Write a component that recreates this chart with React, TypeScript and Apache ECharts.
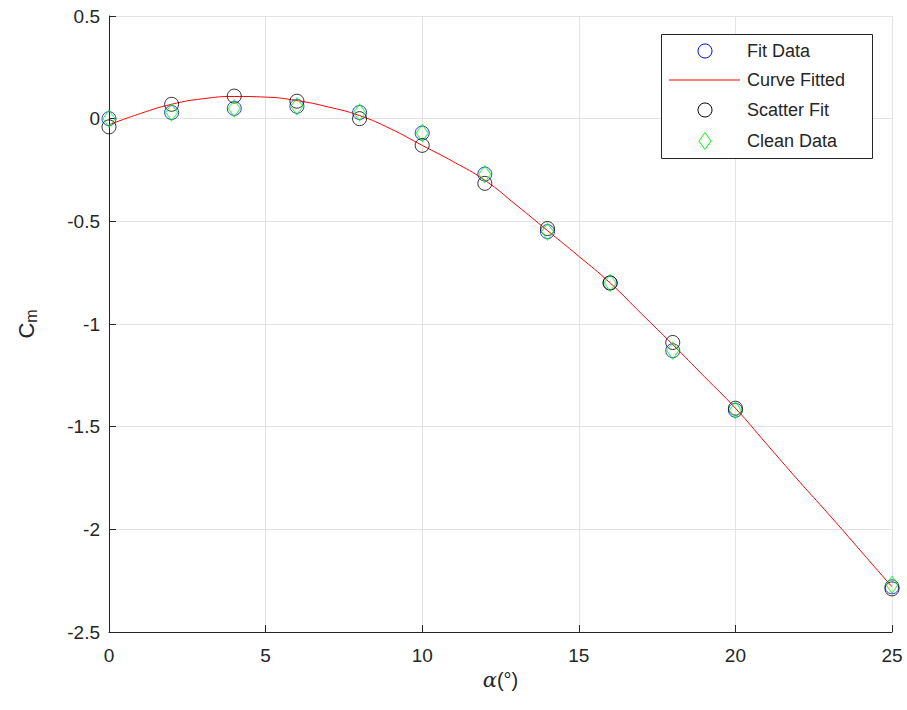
import React, { useEffect, useRef } from "react";
import * as echarts from "echarts";

const alphaPts = [0, 2, 4, 6, 8, 10, 12, 14, 16, 18, 20, 25];
const fitData = [0.0, 0.03, 0.05, 0.06, 0.03, -0.07, -0.27, -0.55, -0.8, -1.13, -1.42, -2.28];
const scatterFit = [-0.04, 0.07, 0.11, 0.085, 0.0, -0.13, -0.315, -0.535, -0.8, -1.09, -1.41, -2.29];
const cleanData = [0.0, 0.03, 0.05, 0.06, 0.03, -0.07, -0.27, -0.55, -0.8, -1.13, -1.42, -2.27];

const curveAlpha = [0, 1, 2, 3, 4, 5, 6, 7, 8, 9, 10, 11, 12, 13, 14, 15, 16, 17, 18, 19, 20, 21, 22, 23, 24, 25];
const curveVals = [
  -0.03, 0.025, 0.07, 0.097, 0.108, 0.105, 0.088, 0.057, 0.015, -0.05, -0.13, -0.21, -0.3, -0.42,
  -0.545, -0.67, -0.8, -0.95, -1.1, -1.255, -1.41, -1.585, -1.76, -1.93, -2.105, -2.28,
];

const legendNames = ["Fit Data", "Curve Fitted", "Scatter Fit", "Clean Data"];

const FONT = "Liberation Sans, Arial, sans-serif";
const TXT = "#262626";
const BLUE = "#0000ff";
const RED = "#ff0000";
const BLACK = "#000000";
const GREEN = "#00ff00";

export default function App() {
  const ref = useRef<HTMLDivElement>(null);
  useEffect(() => {
    if (!ref.current) return;
    const chart = echarts.init(ref.current, undefined, { renderer: "svg" });
    const pair = (xs: number[], ys: number[]) => xs.map((x, i) => [x, ys[i]]);

    const lx = 661, ly = 34, lw = 211, lh = 124;
    const rowsY = [51, 80, 110, 141];
    const iconX = 705;
    const textX = 747;
    const legendEls: any[] = [
      {
        type: "rect",
        shape: { x: lx + 0.5, y: ly + 0.5, width: lw, height: lh },
        style: { fill: "#ffffff", stroke: TXT, lineWidth: 1 },
        z: 100,
      },
      { type: "circle", shape: { cx: iconX, cy: rowsY[0], r: 7 }, style: { fill: "none", stroke: BLUE, lineWidth: 1 }, z: 101 },
      { type: "line", shape: { x1: 669, y1: rowsY[1], x2: 740, y2: rowsY[1] }, style: { stroke: RED, lineWidth: 1 }, z: 101 },
      { type: "circle", shape: { cx: iconX, cy: rowsY[2], r: 7 }, style: { fill: "none", stroke: BLACK, lineWidth: 1 }, z: 101 },
      {
        type: "polygon",
        shape: { points: [[iconX, rowsY[3] - 8.5], [iconX + 6, rowsY[3]], [iconX, rowsY[3] + 8.5], [iconX - 6, rowsY[3]]] },
        style: { fill: "none", stroke: GREEN, lineWidth: 1 },
        z: 101,
      },
    ];
    legendNames.forEach((n, i) => {
      legendEls.push({
        type: "text",
        x: textX,
        y: rowsY[i],
        style: { text: n, fill: TXT, font: `18px ${FONT}`, textVerticalAlign: "middle", verticalAlign: "middle" },
        z: 101,
      });
    });

    chart.setOption({
      animation: false,
      backgroundColor: "#ffffff",
      textStyle: { fontFamily: FONT },
      grid: { left: 109, top: 16, right: 15, bottom: 78, containLabel: false },
      xAxis: {
        type: "value",
        min: 0,
        max: 25,
        interval: 5,
        name: "{it|α}(°)",
        nameLocation: "middle",
        nameGap: 34,
        nameTextStyle: {
          color: TXT,
          fontSize: 20,
          fontFamily: FONT,
          rich: { it: { fontStyle: "italic", fontSize: 21, fontFamily: "DejaVu Serif", color: TXT } },
        },
        axisLine: { show: true, onZero: false, lineStyle: { color: TXT, width: 1 } },
        axisTick: { show: true, inside: true, length: 7, lineStyle: { color: TXT } },
        axisLabel: { color: TXT, fontSize: 19, margin: 14, fontFamily: FONT },
        splitLine: { show: true, lineStyle: { color: "#e3e3e3", width: 1 } },
      },
      yAxis: {
        type: "value",
        min: -2.5,
        max: 0.5,
        interval: 0.5,
        name: "C{sub|m}",
        nameLocation: "middle",
        nameGap: 70,
        nameRotate: 90,
        nameTextStyle: {
          color: TXT,
          fontSize: 22,
          fontFamily: FONT,
          rich: { sub: { fontSize: 16, verticalAlign: "bottom", padding: [10, 0, 0, 0], color: TXT, fontFamily: FONT } },
        },
        axisLine: { show: true, onZero: false, lineStyle: { color: TXT, width: 1 } },
        axisTick: { show: true, inside: true, length: 7, lineStyle: { color: TXT } },
        axisLabel: { color: TXT, fontSize: 19, margin: 9, fontFamily: FONT },
        splitLine: { show: true, lineStyle: { color: "#e3e3e3", width: 1 } },
      },
      graphic: legendEls,
      series: [
        {
          name: legendNames[0],
          type: "scatter",
          symbol: "circle",
          symbolSize: 14,
          itemStyle: { color: "transparent", borderColor: BLUE, borderWidth: 1 },
          data: pair(alphaPts, fitData),
          z: 2,
        },
        {
          name: legendNames[1],
          type: "line",
          smooth: true,
          symbol: "none",
          showSymbol: false,
          lineStyle: { color: RED, width: 1 },
          itemStyle: { color: RED },
          data: pair(curveAlpha, curveVals),
          z: 3,
        },
        {
          name: legendNames[2],
          type: "scatter",
          symbol: "circle",
          symbolSize: 14,
          itemStyle: { color: "transparent", borderColor: BLACK, borderWidth: 1 },
          data: pair(alphaPts, scatterFit),
          z: 4,
        },
        {
          name: legendNames[3],
          type: "scatter",
          symbol: "diamond",
          symbolSize: [12, 17],
          itemStyle: { color: "transparent", borderColor: GREEN, borderWidth: 1 },
          data: pair(alphaPts, cleanData),
          z: 5,
        },
      ],
    });
    return () => chart.dispose();
  }, []);
  return <div ref={ref} style={{ width: 907, height: 710, position: "absolute", left: 0, top: 0 }} />;
}
